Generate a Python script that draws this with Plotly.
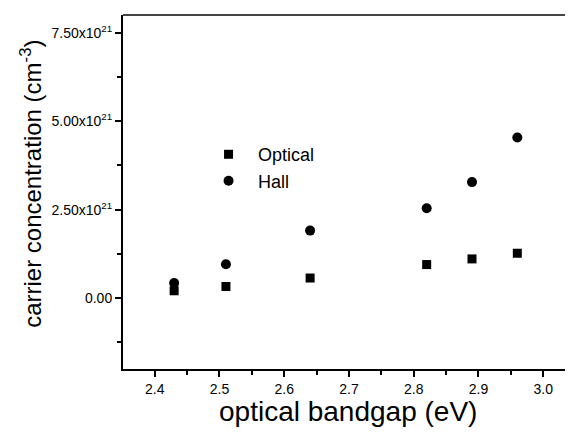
import plotly.graph_objects as go

# Data (carrier concentration in units of 1e21 cm^-3)
bandgap = [2.43, 2.51, 2.64, 2.82, 2.89, 2.96]
optical = [0.21, 0.33, 0.57, 0.95, 1.11, 1.27]
hall = [0.43, 0.96, 1.91, 2.54, 3.28, 4.54]

ytick_vals = [0, 2.5, 5.0, 7.5]
ytick_text = ["0.00", "2.50x10<sup>21</sup>", "5.00x10<sup>21</sup>", "7.50x10<sup>21</sup>"]
xtick_vals = [2.4, 2.5, 2.6, 2.7, 2.8, 2.9, 3.0]
xtick_text = ["2.4", "2.5", "2.6", "2.7", "2.8", "2.9", "3.0"]

x_title = "optical bandgap (eV)"
y_title = "carrier concentration (cm<sup>-3</sup>)"

FONT = "Arial, Liberation Sans, Helvetica, sans-serif"

fig = go.Figure()
fig.add_trace(go.Scatter(x=bandgap, y=optical, mode="markers", name="Optical",
                         marker=dict(symbol="square", size=9, color="black")))
fig.add_trace(go.Scatter(x=bandgap, y=hall, mode="markers", name="Hall",
                         marker=dict(symbol="circle", size=10, color="black")))

fig.update_layout(
    width=565, height=425,
    margin=dict(l=115, r=0, t=7, b=64),
    paper_bgcolor="white", plot_bgcolor="white",
    font=dict(family=FONT, color="black"),
    showlegend=True,
    legend=dict(x=0.169, y=0.48, xanchor="left", yanchor="bottom",
                bgcolor="rgba(0,0,0,0)", font=dict(size=18, color="black"),
                itemwidth=49, tracegroupgap=0),
    xaxis=dict(
        range=[2.351, 3.046],
        tickvals=xtick_vals, ticktext=xtick_text,
        ticks="outside", ticklen=6, tickwidth=2, tickcolor="black",
        minor=dict(dtick=0.05, tick0=2.35, ticks="outside", ticklen=4, tickwidth=2, tickcolor="black"),
        showline=True, linewidth=2, linecolor="black",
        showgrid=False, zeroline=False,
        tickfont=dict(size=14, color="black"),
    ),
    yaxis=dict(
        range=[-2.0, 8.0],
        tickvals=ytick_vals, ticktext=ytick_text,
        ticks="outside", ticklen=6, tickwidth=2, tickcolor="black",
        minor=dict(dtick=1.25, tick0=0, ticks="outside", ticklen=4, tickwidth=2, tickcolor="black"),
        showline=True, linewidth=2, linecolor="black",
        showgrid=False, zeroline=False,
        tickfont=dict(size=14, color="black"),
    ),
    shapes=[dict(type="line", xref="paper", yref="paper", x0=0, x1=1, y0=1, y1=1,
                 line=dict(color="#444444", width=2))],
    annotations=[
        dict(text=x_title, xref="paper", yref="paper", x=0.5, y=-0.121,
             xanchor="center", yanchor="middle", showarrow=False,
             font=dict(size=28, color="black")),
        dict(text=y_title, xref="paper", yref="paper", x=0, y=0.523, xshift=-92,
             xanchor="center", yanchor="middle", textangle=-90, showarrow=False,
             font=dict(size=24, color="black")),
    ],
)

fig.write_html("out.html")
